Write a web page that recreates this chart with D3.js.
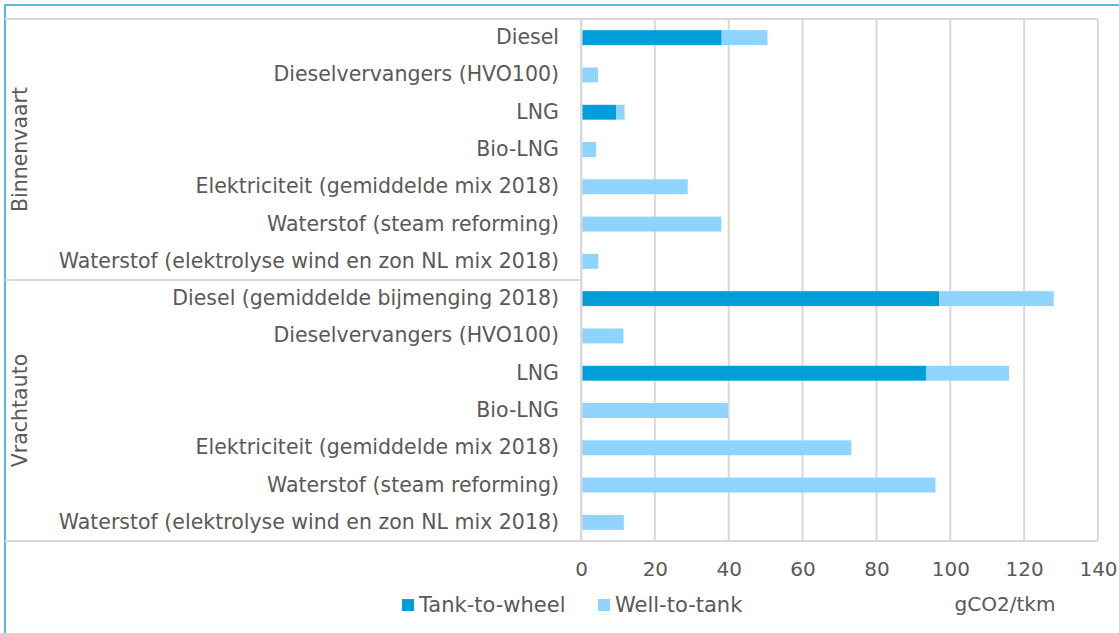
<!DOCTYPE html>
<html>
<head>
<meta charset="utf-8">
<script src="https://cdn.jsdelivr.net/npm/d3@7"></script>
<style>
  body { margin: 0; background: #fff; }
  text { font-family: "DejaVu Sans", sans-serif; fill: #595959; }
</style>
</head>
<body>
<svg id="svg1" width="1119" height="633"></svg>
<script>
var groups = ["Binnenvaart", "Vrachtauto"];
var fuels = ["Diesel", "Dieselvervangers (HVO100)", "LNG", "Bio-LNG",
  "Elektriciteit (gemiddelde mix 2018)", "Waterstof (steam reforming)",
  "Waterstof (elektrolyse wind en zon NL mix 2018)"];
var fuelsVracht = ["Diesel (gemiddelde bijmenging 2018)", "Dieselvervangers (HVO100)", "LNG", "Bio-LNG",
  "Elektriciteit (gemiddelde mix 2018)", "Waterstof (steam reforming)",
  "Waterstof (elektrolyse wind en zon NL mix 2018)"];
var tankToWheelBinnen = [38.1, 0, 9.5, 0, 0, 0, 0];
var wellToTankBinnen = [12.4, 4.6, 2.3, 4.1, 28.9, 38, 4.7];
var tankToWheelVracht = [97, 0, 93.4, 0, 0, 0, 0];
var wellToTankVracht = [31, 11.5, 22.5, 39.8, 73.2, 96, 11.6];
var xTicks = [0, 20, 40, 60, 80, 100, 120, 140];
var seriesNames = ["Tank-to-wheel", "Well-to-tank"];
var colors = ["#009fd9", "#8fd3ff"];

var data = [];
fuels.forEach(function(f, i) {
  data.push({group: groups[0], label: f, key: "b" + i, ttw: tankToWheelBinnen[i], wtt: wellToTankBinnen[i]});
});
fuelsVracht.forEach(function(f, i) {
  data.push({group: groups[1], label: f, key: "v" + i, ttw: tankToWheelVracht[i], wtt: wellToTankVracht[i]});
});

var svg = d3.select("#svg1"),
  margin = {top: 19, right: 21, bottom: 92, left: 581},
  width = +svg.attr("width") - margin.left - margin.right,
  height = +svg.attr("height") - margin.top - margin.bottom;

// outer frame (blue, cut at right/bottom)
svg.append("rect")
  .attr("x", 5).attr("y", 5).attr("width", 1130).attr("height", 650)
  .attr("fill", "none").attr("stroke", "#1fa3dc").attr("stroke-width", 1.5);

var g = svg.append("g").attr("transform", "translate(" + margin.left + "," + margin.top + ")");

var x = d3.scaleLinear().domain([0, 140]).range([0, width]);
var y = d3.scaleBand().domain(data.map(function(d) { return d.key; })).range([0, height]).paddingInner(0.6).paddingOuter(0.3);

// gridlines
g.selectAll(".grid")
  .data(xTicks)
  .enter().append("line")
  .attr("x1", function(d) { return x(d); })
  .attr("x2", function(d) { return x(d); })
  .attr("y1", 0).attr("y2", height)
  .attr("stroke", "#d9d9d9").attr("stroke-width", 2);

// horizontal frame lines spanning category area
var leftEdge = 5 - margin.left;
[0, height].forEach(function(yy) {
  g.append("line").attr("x1", leftEdge).attr("x2", width).attr("y1", yy).attr("y2", yy)
    .attr("stroke", "#d9d9d9").attr("stroke-width", 2);
});
// group separator
var sepY = (y("b6") + y.bandwidth() + y("v0")) / 2;
g.append("line").attr("x1", leftEdge).attr("x2", 0).attr("y1", sepY).attr("y2", sepY)
  .attr("stroke", "#d9d9d9").attr("stroke-width", 2);

// bars
var bars = g.selectAll(".bar").data(data).enter().append("g");
bars.append("rect")
  .attr("x", 0)
  .attr("y", function(d) { return y(d.key); })
  .attr("height", y.bandwidth())
  .attr("width", function(d) { return x(d.ttw); })
  .attr("fill", colors[0]);
bars.append("rect")
  .attr("x", function(d) { return x(d.ttw); })
  .attr("y", function(d) { return y(d.key); })
  .attr("height", y.bandwidth())
  .attr("width", function(d) { return x(d.ttw + d.wtt) - x(d.ttw); })
  .attr("fill", colors[1]);

// x axis
var xAxis = g.append("g")
  .attr("transform", "translate(0," + height + ")")
  .call(d3.axisBottom(x).tickValues(xTicks).tickSize(0).tickPadding(21));
xAxis.select(".domain").remove();
xAxis.selectAll("text").style("font-size", "20px").attr("font-family", null).attr("fill", "#595959");

// y axis labels
var yAxis = g.append("g")
  .call(d3.axisLeft(y).tickSize(0).tickPadding(22).tickFormat(function(k) {
    return data.find(function(d) { return d.key === k; }).label;
  }));
yAxis.select(".domain").attr("stroke", "#d9d9d9").attr("stroke-width", 2);
yAxis.selectAll("text").style("font-size", "20.5px").attr("font-family", null).attr("fill", "#595959");

// group labels
groups.forEach(function(gr, i) {
  var keys = data.filter(function(d) { return d.group === gr; }).map(function(d) { return d.key; });
  var cy = (y(keys[0]) + y(keys[keys.length - 1]) + y.bandwidth()) / 2;
  g.append("text")
    .attr("transform", "translate(" + (20 - margin.left + 7) + "," + cy + ") rotate(-90)")
    .attr("text-anchor", "middle")
    .style("font-size", "20.5px")
    .text(gr);
});

// axis title
svg.append("text")
  .attr("x", 1005).attr("y", 611)
  .attr("text-anchor", "middle")
  .style("font-size", "20px")
  .text("gCO2/tkm");

// legend
var legend = svg.append("g").attr("transform", "translate(402,612)");
var lx = [0, 196];
seriesNames.forEach(function(s, i) {
  legend.append("rect").attr("x", lx[i]).attr("y", -13).attr("width", 12).attr("height", 12).attr("fill", colors[i]);
  legend.append("text").attr("x", lx[i] + 17).attr("y", 0).style("font-size", "21px").text(s);
});
</script>
</body>
</html>
